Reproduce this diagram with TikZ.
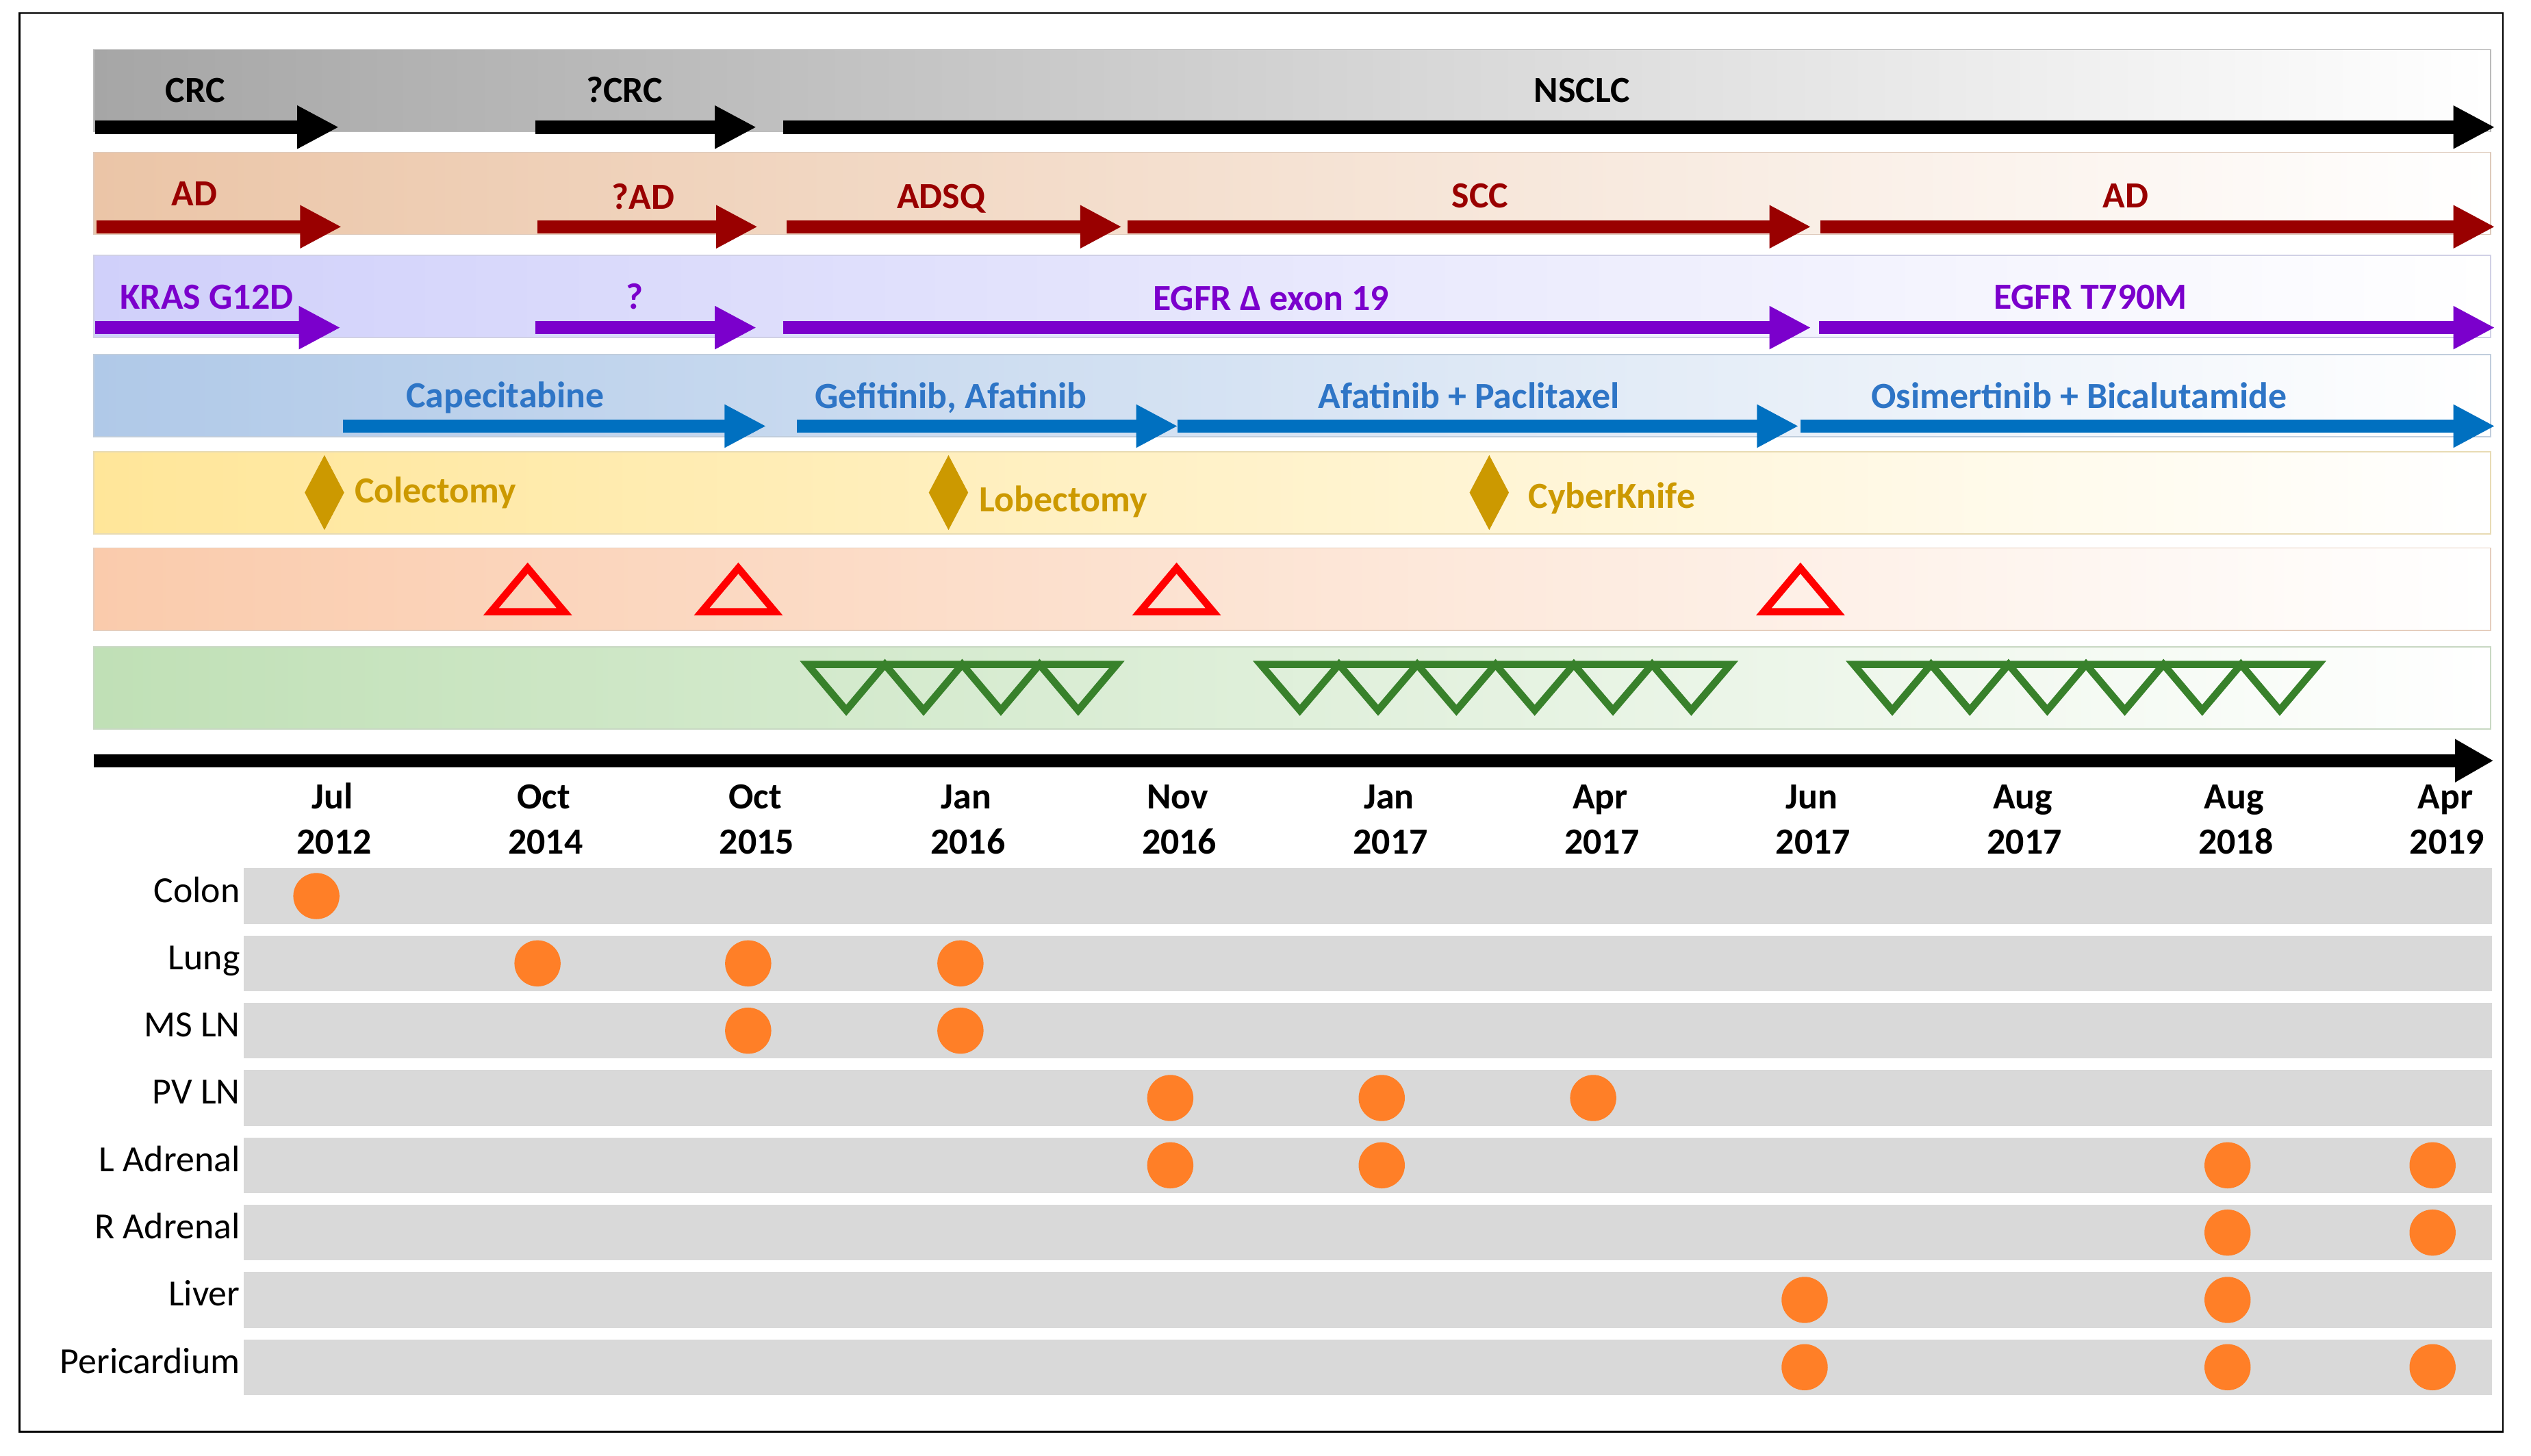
\documentclass[tikz,border=0pt]{standalone}
\usepackage{fontspec}
\setmainfont{Carlito}
\usepackage{xcolor}
\usetikzlibrary{arrows.meta, positioning}

\definecolor{bandgray}{HTML}{A6A6A6}
\definecolor{bandpeach}{HTML}{EBC5A7}
\definecolor{bandlav}{HTML}{D0D0FA}
\definecolor{bandblue}{HTML}{B0C9E8}
\definecolor{bandgold}{HTML}{FFE699}
\definecolor{bandsalmon}{HTML}{FACBAC}
\definecolor{bandgreen}{HTML}{C0E0B6}
\definecolor{histred}{HTML}{990000}
\definecolor{mutpurple}{HTML}{7B00CC}
\definecolor{rxblue}{HTML}{0070C0}
\definecolor{rxtext}{HTML}{2E75C6}
\definecolor{surggold}{HTML}{CC9900}
\definecolor{tri_green}{HTML}{38812B}
\definecolor{rowgray}{HTML}{D9D9D9}
\definecolor{siteorange}{HTML}{FF7F27}

\tikzset{
    stagearrow/.style={line width=4.7pt, -{Triangle[length=14.7pt, width=14.2pt]}},
    bandlbl/.style={font=\fontsize{13}{15}\selectfont\bfseries, anchor=base, inner sep=0pt},
    sitelbl/.style={font=\fontsize{13}{15}\selectfont, anchor=base east, inner sep=0pt},
    tri/.style={line width=2.55pt, line join=miter},
}

\begin{document}
\begin{tikzpicture}[x=0.02cm, y=-0.02cm]
            \useasboundingbox (0,0) rectangle (1568,902);
            \draw[line width=0.6pt] (12,8) rectangle (1550.5,887);
            % background bands
            \foreach \top/\col in {30.7/bandgray, 94.3/bandpeach, 158.2/bandlav, 219.6/bandblue,
                                   279.8/bandgold, 339.5/bandsalmon, 400.8/bandgreen} {
                \shade[left color=\col, right color=white, draw=\col!85!black!60] (58,\top) rectangle (1543,\top+51);
            }
            % diagnosis
            \foreach \a/\b in {59/210, 331.6/468.7, 485.3/1545.7}
                \draw[stagearrow, black] (\a,78.8) -- (\b,78.8);
            \node[bandlbl] (crc) at (121,63.4) {CRC};
            \node[bandlbl] (qcrc) at (387,63.4) {?CRC};
            \node[bandlbl] (nsclc) at (980,63.4) {NSCLC};
            % histology
            \foreach \a/\b in {59.8/211.7, 333/469.5, 487.3/695, 698.6/1122, 1127.7/1545.7}
                \draw[stagearrow, histred] (\a,140.5) -- (\b,140.5);
            \node[bandlbl, histred] (ad) at (120.4,127.3) {AD};
            \node[bandlbl, histred] (qad) at (398.5,129.5) {?AD};
            \node[bandlbl, histred] (adsq) at (583,129) {ADSQ};
            \node[bandlbl, histred] (scc) at (917,128.7) {SCC};
            \node[bandlbl, histred] (adlate) at (1317,128.7) {AD};
            % mutations
            \foreach \a/\b in {59/211, 331.6/468.7, 485/1122, 1126.9/1545.7}
                \draw[stagearrow, mutpurple] (\a,203) -- (\b,203);
            \node[bandlbl, mutpurple] (kras) at (128,191.5) {KRAS G12D};
            \node[bandlbl, mutpurple] (qmut) at (393,191.5) {?};
            \node[bandlbl, mutpurple] (egfr) at (787.4,192.5) {EGFR Δ exon 19};
            \node[bandlbl, mutpurple] (t790m) at (1295,191.5) {EGFR T790M};
            % therapy
            \foreach \a/\b in {212.4/474.7, 493.8/729.7, 729.7/1114.3, 1115.4/1545.7}
                \draw[stagearrow, rxblue] (\a,264) -- (\b,264);
            \node[bandlbl, rxtext] (cape) at (313,252.7) {Capecitabine};
            \node[bandlbl, rxtext] (gefafa) at (589,253) {Gefitinib, Afatinib};
            \node[bandlbl, rxtext] (afapac) at (910,253) {Afatinib + Paclitaxel};
            \node[bandlbl, rxtext] (osibic) at (1288,253) {Osimertinib + Bicalutamide};
            % surgery
            \foreach \x in {201, 587.6, 922.6}
                \fill[surggold] (\x,282) -- ++(12.2,23.2) -- ++(-12.2,23.2) -- ++(-12.2,-23.2) -- cycle;
            \node[bandlbl, surggold, anchor=base west] (colec) at (219.4,311.6) {Colectomy};
            \node[bandlbl, surggold, anchor=base west] (lobec) at (606.5,317) {Lobectomy};
            \node[bandlbl, surggold, anchor=base west] (cyber) at (946.6,314.8) {CyberKnife};
            % progression
            \foreach \x in {326.9, 457.4, 728.9, 1115.4}
                \draw[tri, red] (\x-22.7,379) -- (\x,352) -- (\x+22.7,379) -- cycle;
            % response
            \foreach \x/\n/\w in {500.3/4/47.9, 781/6/48.5, 1148.3/6/48}
                \draw[tri, tri_green] (\x,411.7) \foreach \i in {1,...,\n} {
                    -- (\x+\i*\w-\w/2,440.1) -- (\x+\i*\w,411.7) } -- cycle;
            % time axis
            \draw[line width=4.6pt, -{Triangle[length=13.6pt, width=14.3pt]}] (58,471.3) -- (1544.8,471.3);
            \foreach \m/\yr [count=\i from 0] in {Jul/2012, Oct/2014, Oct/2015, Jan/2016, Nov/2016, Jan/2017,
                                                 Apr/2017, Jun/2017, Aug/2017, Aug/2018, Apr/2019} {
                \node[bandlbl] (mon\i) at (206+130.9*\i,501) {\m};
                \node[bandlbl] (yr\i) at (207+130.9*\i,529) {\yr};
            }
            % metastatic sites
            \foreach \site [count=\r from 0] in {Colon, Lung, MS LN, PV LN, L Adrenal, R Adrenal, Liver, Pericardium} {
                \fill[rowgray] (151,538+41.7*\r) rectangle (1544,572.5+41.7*\r);
                \node[sitelbl] (site\r) at (149,559+41.7*\r) {\site};
            }
            \foreach \r/\x in {0/196, 1/333, 1/463.5, 1/595, 2/463.5, 2/595, 3/725, 3/856, 3/987,
                               4/725, 4/856, 4/1380, 4/1507, 5/1380, 5/1507, 6/1118, 6/1380,
                               7/1118, 7/1380, 7/1507}
                \fill[siteorange] (\x,555.2+41.7*\r) circle (14.3);
        \end{tikzpicture}
\end{document}
